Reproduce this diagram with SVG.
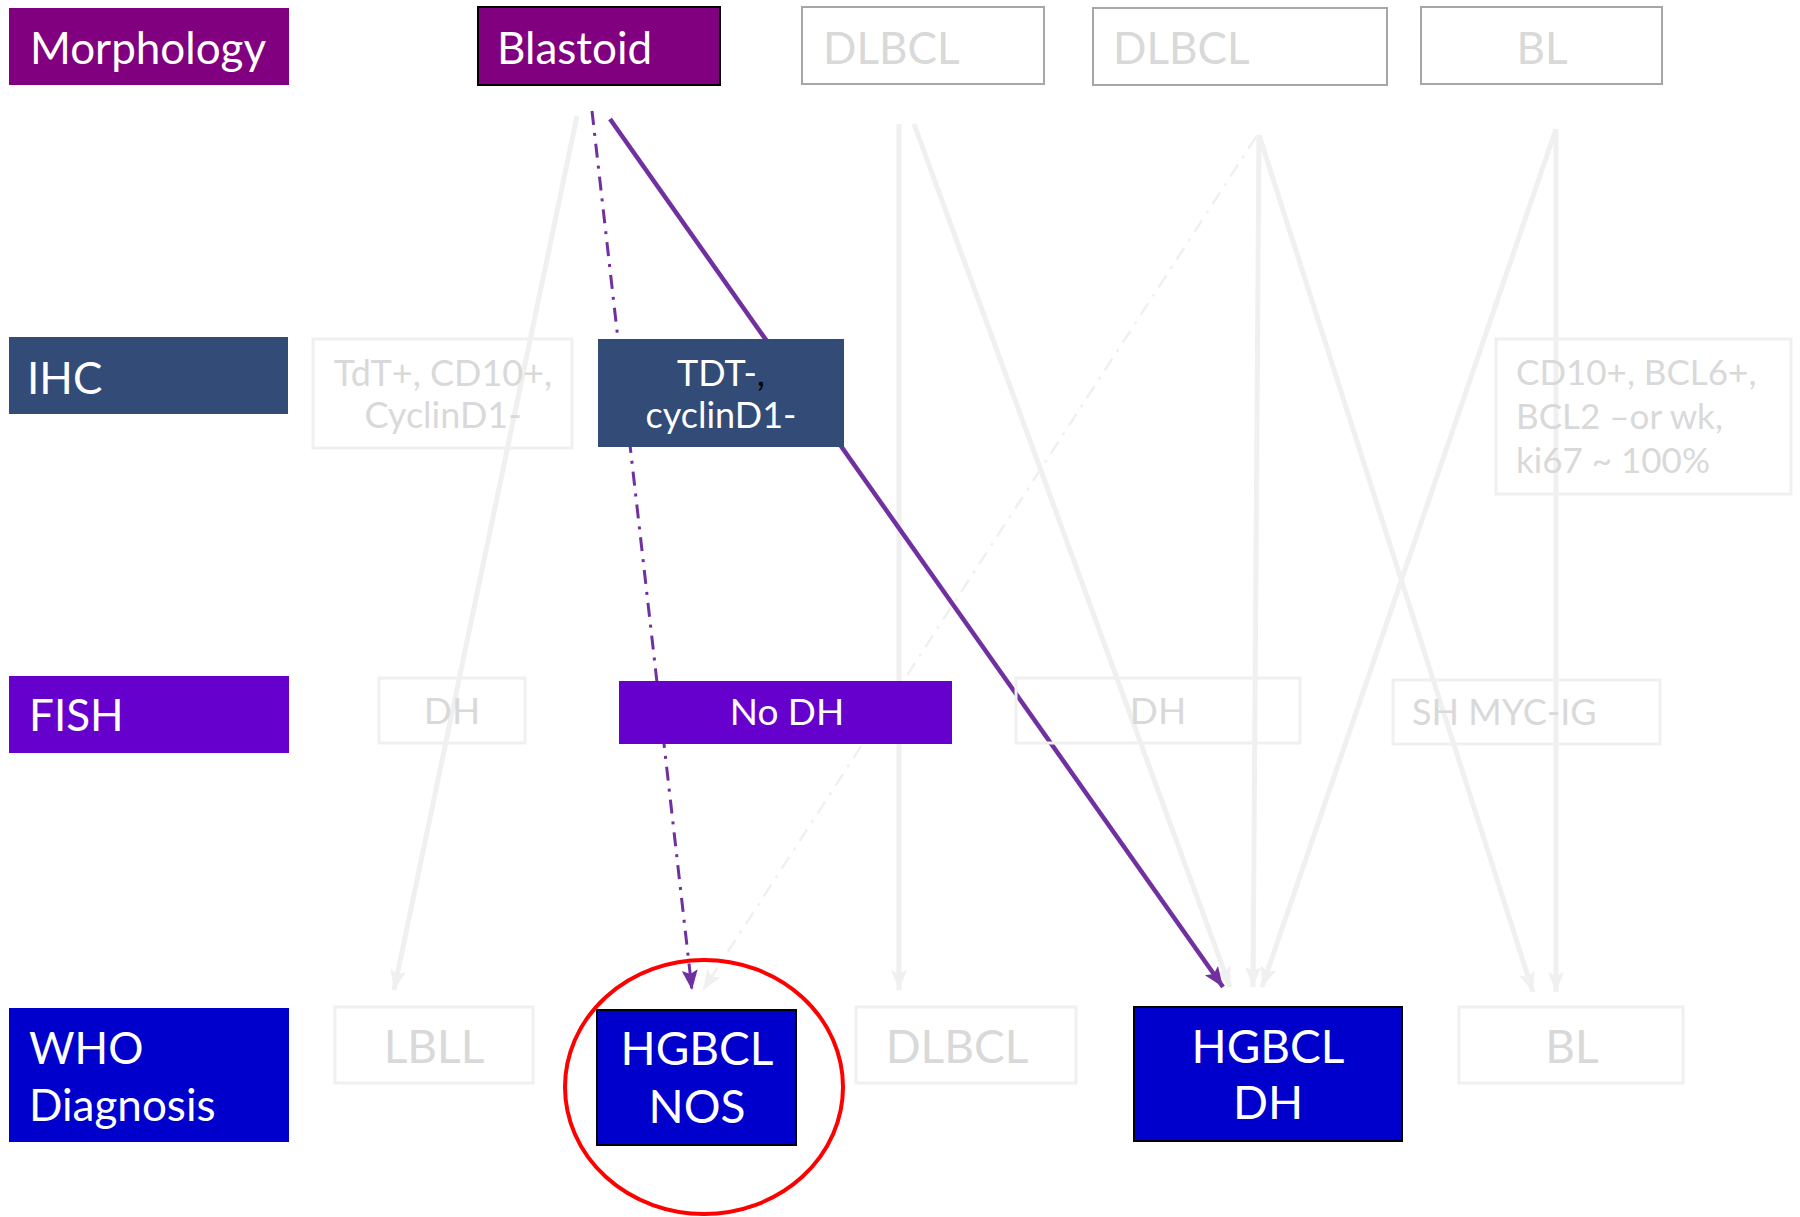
<svg xmlns="http://www.w3.org/2000/svg" width="1800" height="1217" viewBox="0 0 1800 1217">
<style>
  text { font-family: Lato, "Open Sans", "Liberation Sans", sans-serif; }
  .lbl { fill: #ffffff; font-size: 44px; }
  .wt { fill: #ffffff; }
  .gt { fill: #d9d9d9; }
  .ghostA { fill: none; stroke: #a6a6a6; stroke-width: 2; }
  .ghostB { fill: none; stroke: #f0f0f0; stroke-width: 3; }
  .gl { fill: none; stroke: #f0f0f0; stroke-width: 5; marker-end: url(#ga); }
  .gld { fill: none; stroke: #f0f0f0; stroke-width: 2.5; stroke-dasharray: 14 8 3 8; marker-end: url(#ga); }
  .pl { fill: none; stroke: #7030a0; stroke-width: 4.5; marker-end: url(#pa); }
  .pld { fill: none; stroke: #7030a0; stroke-width: 3; stroke-dasharray: 14 8 3 8; marker-end: url(#pa); }
</style>
<defs>
  <marker id="ga" markerUnits="userSpaceOnUse" markerWidth="22" markerHeight="18" refX="20" refY="8" orient="auto">
    <path d="M0,0 L20,8 L0,16 L4,8 z" fill="#f0f0f0"/>
  </marker>
  <marker id="pa" markerUnits="userSpaceOnUse" markerWidth="22" markerHeight="18" refX="20" refY="8" orient="auto">
    <path d="M0,0 L20,8 L0,16 L4,8 z" fill="#7030a0"/>
  </marker>
</defs>
<rect width="1800" height="1217" fill="#ffffff"/>

<g id="connectors">
  <line class="gl" x1="577" y1="116" x2="394" y2="990"/>
  <line class="gl" x1="899" y1="124" x2="899" y2="990"/>
  <line class="gl" x1="914" y1="124" x2="1230" y2="987"/>
  <line class="gl" x1="1259" y1="135" x2="1253" y2="987"/>
  <line class="gl" x1="1259" y1="135" x2="1533" y2="992"/>
  <line class="gl" x1="1556" y1="129" x2="1262" y2="987"/>
  <line class="gl" x1="1556" y1="129" x2="1556" y2="992"/>
  <line class="gld" x1="1256" y1="137" x2="703" y2="990"/>
  <line class="pld" x1="592" y1="111" x2="692" y2="990"/>
  <line class="pl" x1="610" y1="119" x2="1223" y2="987"/>
</g>

<g id="label-morphology">
  <rect x="9" y="8" width="280" height="77" fill="#800080"/>
  <text class="lbl" x="30" y="64">Morphology</text>
</g>
<g id="label-ihc">
  <rect x="9" y="337" width="279" height="77" fill="#324b77"/>
  <text class="lbl" x="27" y="394">IHC</text>
</g>
<g id="label-fish">
  <rect x="9" y="676" width="280" height="77" fill="#6600cc"/>
  <text class="lbl" x="29" y="731">FISH</text>
</g>
<g id="label-who">
  <rect x="9" y="1008" width="280" height="134" fill="#0000cc"/>
  <text class="lbl" x="29" y="1064">WHO</text>
  <text class="lbl" x="29" y="1121">Diagnosis</text>
</g>

<g id="node-blastoid">
  <rect x="478" y="7" width="242" height="78" fill="#800080" stroke="#000000" stroke-width="2"/>
  <text class="wt" x="497" y="64" font-size="44">Blastoid</text>
</g>
<g id="node-dlbcl-m1">
  <rect x="802" y="7" width="242" height="77" class="ghostA"/>
  <text class="gt" x="823" y="64" font-size="44">DLBCL</text>
</g>
<g id="node-dlbcl-m2">
  <rect x="1093" y="8" width="294" height="77" class="ghostA"/>
  <text class="gt" x="1113" y="64" font-size="44">DLBCL</text>
</g>
<g id="node-bl-m">
  <rect x="1421" y="7" width="241" height="77" class="ghostA"/>
  <text class="gt" x="1542" y="64" font-size="44" text-anchor="middle">BL</text>
</g>

<g id="node-ihc-tdt-pos">
  <rect x="313" y="339" width="259" height="109" class="ghostB"/>
  <text class="gt" x="443" y="386" font-size="36" text-anchor="middle">TdT+, CD10+,</text>
  <text class="gt" x="443" y="428" font-size="36" text-anchor="middle">CyclinD1-</text>
</g>
<g id="node-ihc-tdt-neg">
  <rect x="598" y="339" width="246" height="108" fill="#324b77"/>
  <text class="wt" x="721" y="386" font-size="36" text-anchor="middle">TDT-<tspan fill="#000000">,</tspan></text>
  <text class="wt" x="721" y="428" font-size="36" text-anchor="middle">cyclinD1-</text>
</g>
<g id="node-ihc-cd10">
  <rect x="1496" y="339" width="295" height="155" class="ghostB"/>
  <text class="gt" x="1516" y="385" font-size="35">CD10+, BCL6+,</text>
  <text class="gt" x="1516" y="429" font-size="35">BCL2 –or wk,</text>
  <text class="gt" x="1516" y="473" font-size="35">ki67 ~ 100%</text>
</g>

<g id="node-fish-dh1">
  <rect x="379" y="678" width="146" height="65" class="ghostB"/>
  <text class="gt" x="452" y="724" font-size="37" text-anchor="middle">DH</text>
</g>
<g id="node-fish-nodh">
  <rect x="619" y="681" width="333" height="63" fill="#6600cc"/>
  <text class="wt" x="787" y="725" font-size="37" text-anchor="middle">No DH</text>
</g>
<g id="node-fish-dh2">
  <rect x="1016" y="678" width="284" height="65" class="ghostB"/>
  <text class="gt" x="1158" y="724" font-size="37" text-anchor="middle">DH</text>
</g>
<g id="node-fish-sh">
  <rect x="1393" y="680" width="267" height="64" class="ghostB"/>
  <text class="gt" x="1412" y="725" font-size="36">SH MYC-IG</text>
</g>

<g id="node-who-lbll">
  <rect x="335" y="1007" width="198" height="76" class="ghostB"/>
  <text class="gt" x="434" y="1063" font-size="46" text-anchor="middle">LBLL</text>
</g>
<g id="node-who-hgbcl-nos">
  <rect x="597" y="1010" width="199" height="135" fill="#0000cc" stroke="#000000" stroke-width="2"/>
  <text class="wt" x="697" y="1065" font-size="46" text-anchor="middle">HGBCL</text>
  <text class="wt" x="697" y="1123" font-size="46" text-anchor="middle">NOS</text>
</g>
<g id="node-who-dlbcl">
  <rect x="856" y="1007" width="220" height="76" class="ghostB"/>
  <text class="gt" x="957" y="1063" font-size="46" text-anchor="middle">DLBCL</text>
</g>
<g id="node-who-hgbcl-dh">
  <rect x="1134" y="1007" width="268" height="134" fill="#0000cc" stroke="#000000" stroke-width="2"/>
  <text class="wt" x="1268" y="1063" font-size="46" text-anchor="middle">HGBCL</text>
  <text class="wt" x="1268" y="1119" font-size="46" text-anchor="middle">DH</text>
</g>
<g id="node-who-bl">
  <rect x="1459" y="1007" width="224" height="76" class="ghostB"/>
  <text class="gt" x="1572" y="1063" font-size="46" text-anchor="middle">BL</text>
</g>

<g id="highlight">
  <ellipse cx="704" cy="1087" rx="139" ry="127" fill="none" stroke="#ff0000" stroke-width="4"/>
</g>
</svg>
